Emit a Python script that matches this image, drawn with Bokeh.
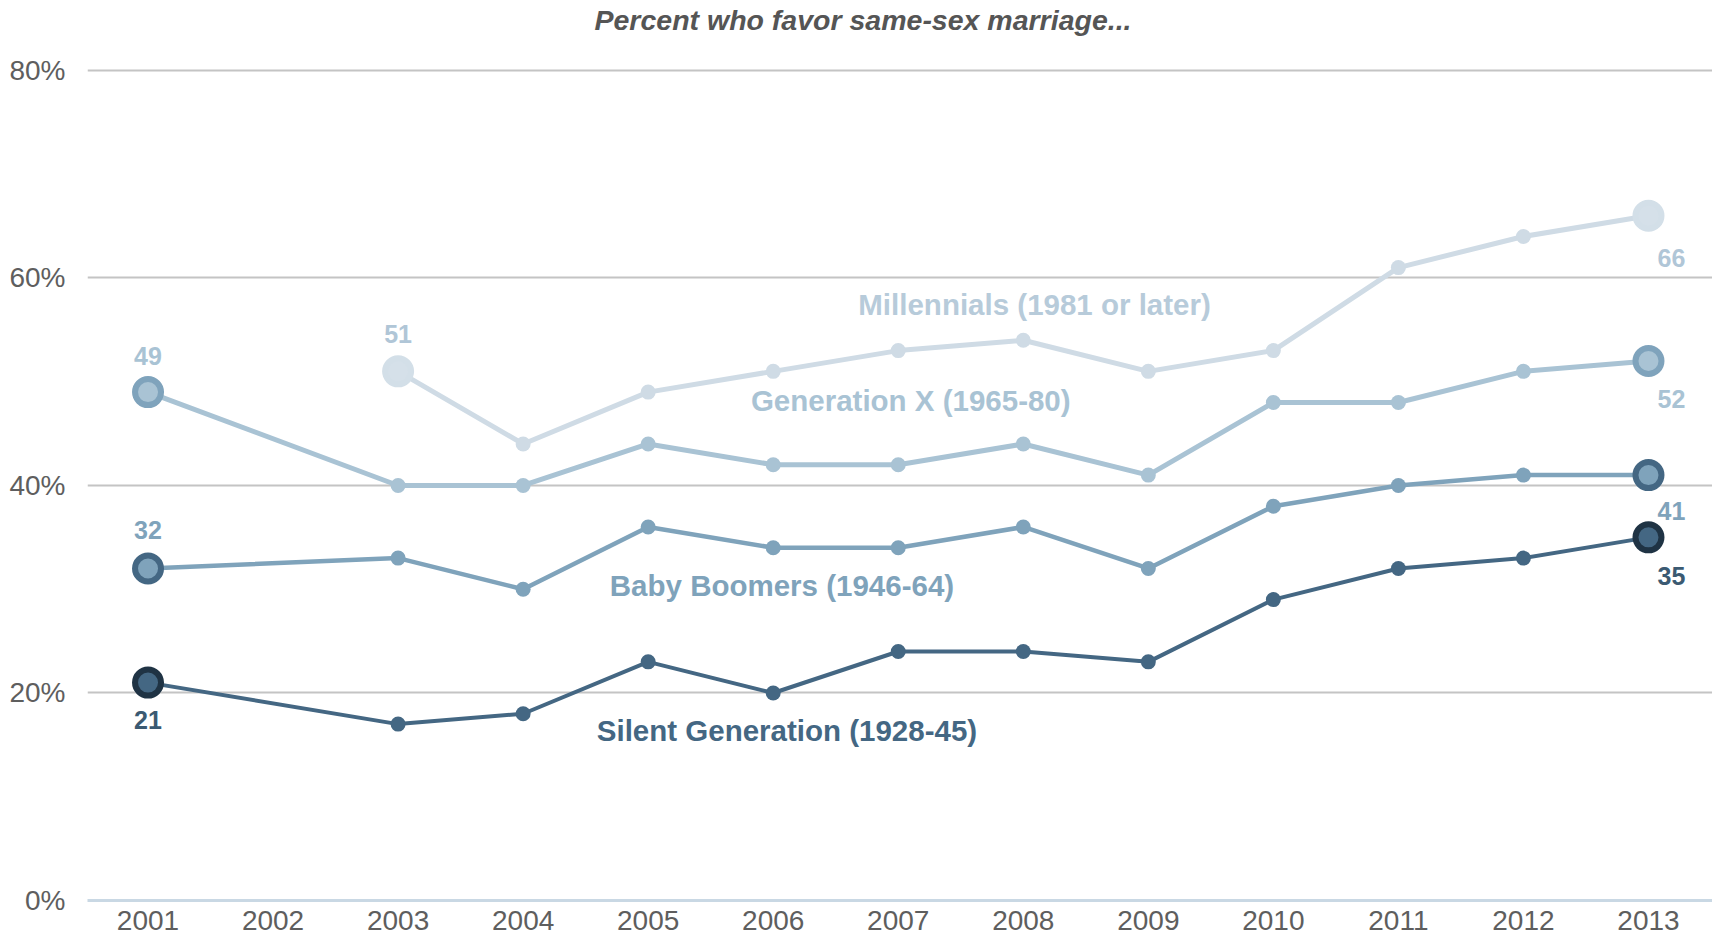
from bokeh.plotting import figure
from bokeh.models import FixedTicker, PrintfTickFormatter, Range1d
from bokeh.embed import file_html
from bokeh.resources import INLINE
from bokeh.core.properties import value

# ---------------- data ----------------
title_text = "Percent who favor same-sex marriage..."
years = [2001, 2003, 2004, 2005, 2006, 2007, 2008, 2009, 2010, 2011, 2012, 2013]
millennial_years = [2003, 2004, 2005, 2006, 2007, 2008, 2009, 2010, 2011, 2012, 2013]
millennials = [51, 44, 49, 51, 53, 54, 51, 53, 61, 64, 66]
gen_x = [49, 40, 40, 44, 42, 42, 44, 41, 48, 48, 51, 52]
boomers = [32, 33, 30, 36, 34, 34, 36, 32, 38, 40, 41, 41]
silent = [21, 17, 18, 23, 20, 24, 24, 23, 29, 32, 33, 35]
series_names = ["Millennials (1981 or later)", "Generation X (1965-80)",
                "Baby Boomers (1946-64)", "Silent Generation (1928-45)"]
x_ticks = list(range(2001, 2014))
y_ticks = [0, 20, 40, 60, 80]

FONT = value("Liberation Sans")

p = figure(width=1712, height=935, output_backend="svg", toolbar_location=None,
           x_range=Range1d(2000.516, 2013.512), y_range=Range1d(0, 83.37),
           min_border_left=87, min_border_right=0, min_border_top=35, min_border_bottom=35)
p.outline_line_color = None
p.background_fill_color = "white"
p.border_fill_color = "white"

# title
p.title.text = title_text
p.title.align = "left"
p.title.offset = 507
p.title.vertical_align = "bottom"
p.title.standoff = 0
p.title.text_font = "Liberation Sans"
p.title.text_font_size = "28.5px"
p.title.text_font_style = "bold italic"
p.title.text_color = "#555555"

# axes
p.xaxis.ticker = FixedTicker(ticks=x_ticks)
p.xaxis.formatter = PrintfTickFormatter(format="%d")
p.xaxis.major_tick_line_color = None
p.xaxis.minor_tick_line_color = None
p.xaxis.axis_line_color = "#c9d8e4"
p.xaxis.axis_line_width = 3
p.xaxis.major_label_text_font = "Liberation Sans"
p.xaxis.major_label_text_font_size = "28px"
p.xaxis.major_label_text_color = "#5e5e5e"
p.xaxis.major_label_standoff = 4

p.yaxis.ticker = FixedTicker(ticks=y_ticks)
p.yaxis.formatter = PrintfTickFormatter(format="%d%%")
p.yaxis.major_tick_line_color = None
p.yaxis.minor_tick_line_color = None
p.yaxis.axis_line_color = None
p.yaxis.major_label_text_font = "Liberation Sans"
p.yaxis.major_label_text_font_size = "28px"
p.yaxis.major_label_text_color = "#5e5e5e"
p.yaxis.major_label_standoff = 16

p.xgrid.grid_line_color = None
p.ygrid.ticker = FixedTicker(ticks=[20, 40, 60, 80])
p.ygrid.grid_line_color = "#c4c4c4"
p.ygrid.grid_line_width = 2

# series styles
styles = [
    # x, y, line color, line width, label color, end ring color, end fill
    (millennial_years, millennials, "#cfdbe5", 5, "#b0c6d7", "#d3dfe8", "#d5e0e9"),
    (years, gen_x, "#a9c3d4", 5, "#a9c3d4", "#7fa3bc", "#a9c3d4"),
    (years, boomers, "#7fa3bb", 4.5, "#7fa3bb", "#446783", "#7fa3bb"),
    (years, silent, "#446783", 4, "#3b5a72", "#1f3344", "#446783"),
]

for xs, ys, col, lw, lcol, ring, fill in styles:
    p.line(xs, ys, line_color=col, line_width=lw)
    p.scatter(xs[1:-1], ys[1:-1], size=15, fill_color=col, line_color=None)
    p.scatter([xs[0], xs[-1]], [ys[0], ys[-1]], size=26, fill_color=fill,
              line_color=ring, line_width=6)

# value labels at the ends
end_label_specs = [
    (0, 0, -37, 23, 42),
    (1, 0, -36, 23, 38),
    (2, 0, -38, 23, 36),
    (3, 0, 37, 23, 39),
]
for idx, sx, sy, ex, ey in end_label_specs:
    xs, ys, col, lw, lcol, ring, fill = styles[idx]
    p.text([xs[0]], [ys[0]], text=[str(ys[0])], x_offset=sx, y_offset=sy,
           text_align="center", text_baseline="middle", text_font=FONT,
           text_font_size="25px", text_font_style="bold", text_color=lcol)
    p.text([xs[-1]], [ys[-1]], text=[str(ys[-1])], x_offset=ex, y_offset=ey,
           text_align="center", text_baseline="middle", text_font=FONT,
           text_font_size="25px", text_font_style="bold", text_color=lcol)

# series name labels
name_colors = ["#b7cbda", "#a9c3d4", "#7fa3bb", "#446783"]
name_x = [2008.09, 2007.1, 2006.07, 2006.11]
name_y = [57.4, 48.2, 30.4, 16.4]
p.text(name_x, name_y, text=series_names, text_align="center", text_baseline="middle",
       text_font=FONT, text_font_size="29.5px", text_font_style="bold",
       text_color=name_colors)

open("out.html", "w").write(file_html(p, INLINE))
